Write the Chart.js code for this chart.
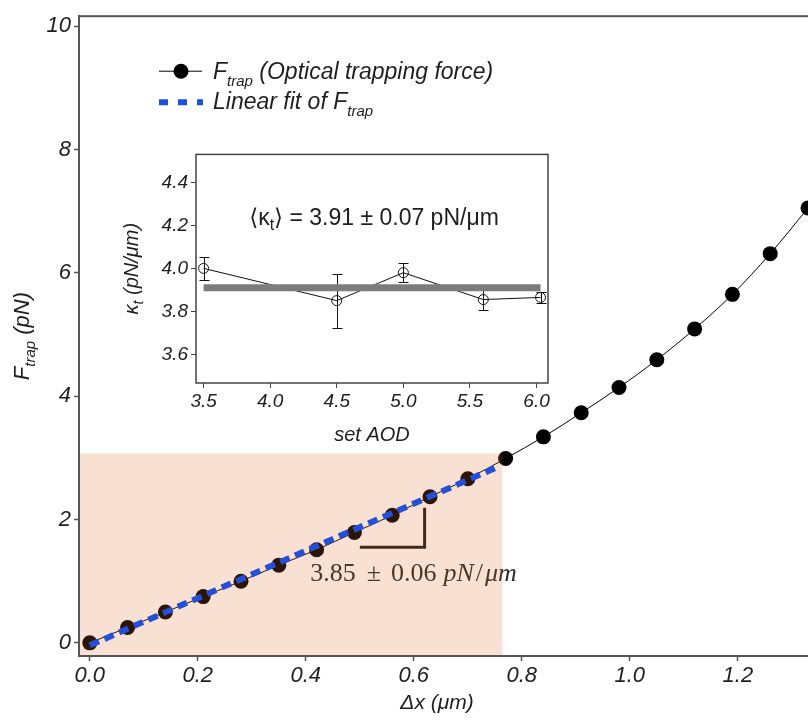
<!DOCTYPE html>
<html lang="en">
<head>
<meta charset="UTF-8">
<title>Optical trapping force</title>
<style>
    html, body { margin: 0; padding: 0; background: #fff; overflow: hidden; }
    #wrap { position: relative; width: 808px; height: 724px; overflow: hidden; }
    #mainChart { position: absolute; left: 0; top: 0; }
    #insetChart { position: absolute; left: 100px; top: 140px; }
</style>
</head>
<body>
<div id="wrap">
    <canvas id="mainChart" width="850" height="724"></canvas>
    <canvas id="insetChart" width="460" height="310"></canvas>
</div>
<script src="https://cdn.jsdelivr.net/npm/chart.js@4.4.1/dist/chart.umd.min.js"></script>
<script>
    // trapping force vs bead displacement
    const dx = [0, 0.07, 0.14, 0.21, 0.28, 0.35, 0.42, 0.49, 0.56, 0.63,
                0.70, 0.77, 0.84, 0.91, 0.98, 1.05, 1.12, 1.19, 1.26, 1.33];
    const fTrap = [0, 0.25, 0.50, 0.75, 1.00, 1.26, 1.51, 1.79, 2.07, 2.37,
                   2.66, 2.99, 3.34, 3.73, 4.14, 4.59, 5.09, 5.65, 6.31, 7.05];

    // linear fit over the low-displacement part
    const fitX = [0, 0.757];
    const fitY = [-0.04, 2.86];

    // slope marker and its label
    const slopeX = [0.50, 0.62, 0.62];
    const slopeY = [1.55, 1.55, 2.19];
    const slopeLabelAt = [0.408, 1.0];

    // shaded fit range
    const shadeX = 0.764;
    const shadeY = 3.07;

    const xTicks = [0, 0.2, 0.4, 0.6, 0.8, 1.0, 1.2];
    const yTicks = [0, 2, 4, 6, 8, 10];

    // inset: stiffness vs AOD setting
    const aod = [3.5, 4.5, 5.0, 5.6, 6.03];
    const kappa = [4.00, 3.85, 3.98, 3.855, 3.865];
    const kappaErr = [0.055, 0.125, 0.043, 0.047, 0.025];
    const kappaMean = 3.91;
    const insetXTicks = [3.5, 4.0, 4.5, 5.0, 5.5, 6.0];
    const insetYTicks = [3.6, 3.8, 4.0, 4.2, 4.4];

    const SANS = "'Liberation Sans', 'DejaVu Sans', sans-serif";
    const SERIF = "'Liberation Serif', 'DejaVu Serif', serif";
    const axisColor = '#555';
    const textColor = '#1e1e1e';

    // draws a row of text pieces; dy shifts subscripts, gap adds space after a piece
    function drawRuns(ctx, runs, x, y, align) {
        let total = 0;
        runs.forEach(r => { ctx.font = r.font; total += ctx.measureText(r.text).width + (r.gap || 0); });
        let cx = align === 'center' ? x - total / 2 : x;
        runs.forEach(r => {
            ctx.font = r.font;
            ctx.fillText(r.text, cx, y + (r.dy || 0));
            cx += ctx.measureText(r.text).width + (r.gap || 0);
        });
    }

    function pts(xs, ys) {
        return xs.map((v, i) => ({x: v, y: ys[i]}));
    }

    const mainDecor = {
        id: 'mainDecor',
        beforeDatasetDraw(chart, args) {
            if (args.index !== 2) return;
            const {ctx, chartArea: a, scales: {x, y}} = chart;
            ctx.save();
            ctx.fillStyle = '#2a2a2a';
            ctx.textAlign = 'left';
            ctx.textBaseline = 'alphabetic';
            const up = '26px ' + SERIF, it = 'italic 26px ' + SERIF;
            drawRuns(ctx, [
                {text: '3.85', font: up, gap: 11},
                {text: '\u00b1', font: up, gap: 10},
                {text: '0.06', font: up, gap: 7},
                {text: 'pN', font: it, gap: 2},
                {text: '/', font: up, gap: 2},
                {text: '\u03bcm', font: it}
            ], x.getPixelForValue(slopeLabelAt[0]), y.getPixelForValue(slopeLabelAt[1]));
            // translucent orange over the fitted range
            const sx = x.getPixelForValue(shadeX);
            const sy = y.getPixelForValue(shadeY);
            ctx.fillStyle = 'rgba(222,104,28,0.2)';
            ctx.fillRect(a.left, sy, sx - a.left, a.bottom - sy);
            ctx.restore();
        },
        afterDraw(chart) {
            const {ctx, chartArea: a} = chart;
            ctx.save();
            ctx.strokeStyle = axisColor;
            ctx.lineWidth = 2;
            ctx.strokeRect(a.left, a.top, a.right - a.left, a.bottom - a.top);

            ctx.fillStyle = textColor;
            ctx.textBaseline = 'alphabetic';
            const big = 'italic 23px ' + SANS;
            const sub = 'italic 15px ' + SANS;

            // y title
            ctx.save();
            ctx.translate(29, (a.top + a.bottom) / 2);
            ctx.rotate(-Math.PI / 2);
            drawRuns(ctx, [
                {text: 'F', font: 'italic 22px ' + SANS},
                {text: 'trap', font: sub, dy: 6},
                {text: ' (pN)', font: 'italic 22px ' + SANS}
            ], 0, 0, 'center');
            ctx.restore();

            // x title
            drawRuns(ctx, [{text: '\u0394x (\u03bcm)', font: 'italic 21px ' + SANS}],
                a.left + 358, 709, 'center');

            // legend
            const lx = a.left + 80, ly1 = a.top + 55, ly2 = a.top + 86;
            ctx.strokeStyle = '#000';
            ctx.lineWidth = 1;
            ctx.beginPath();
            ctx.moveTo(lx, ly1);
            ctx.lineTo(lx + 43, ly1);
            ctx.stroke();
            ctx.fillStyle = '#000';
            ctx.beginPath();
            ctx.arc(lx + 22, ly1, 7.5, 0, Math.PI * 2);
            ctx.fill();

            ctx.strokeStyle = '#1d4fe0';
            ctx.lineWidth = 6;
            ctx.setLineDash([9, 10]);
            ctx.beginPath();
            ctx.moveTo(lx, ly2);
            ctx.lineTo(lx + 44, ly2);
            ctx.stroke();
            ctx.setLineDash([]);

            ctx.fillStyle = textColor;
            drawRuns(ctx, [
                {text: 'F', font: big},
                {text: 'trap', font: sub, dy: 7},
                {text: ' (Optical trapping force)', font: big}
            ], lx + 54, ly1 + 8);
            drawRuns(ctx, [
                {text: 'Linear fit of F', font: big},
                {text: 'trap', font: sub, dy: 7}
            ], lx + 54, ly2 + 7);
            ctx.restore();
        }
    };

    new Chart(document.getElementById('mainChart'), {
        type: 'line',
        data: {
            datasets: [
                {
                    label: 'Ftrap (Optical trapping force)',
                    data: pts(dx, fTrap),
                    borderColor: '#000',
                    borderWidth: 1,
                    pointRadius: 7.5,
                    pointBackgroundColor: '#000',
                    pointBorderWidth: 0,
                    cubicInterpolationMode: 'monotone',
                    order: 3
                },
                {
                    label: 'slope',
                    data: pts(slopeX, slopeY),
                    borderColor: '#1c1c1c',
                    borderWidth: 3,
                    pointRadius: 0,
                    tension: 0,
                    order: 2
                },
                {
                    label: 'Linear fit of Ftrap',
                    data: pts(fitX, fitY),
                    borderColor: '#2450d8',
                    borderWidth: 6,
                    borderDash: [10, 6],
                    pointRadius: 0,
                    tension: 0,
                    order: 1
                }
            ]
        },
        options: {
            responsive: false,
            animation: false,
            layout: {padding: {top: 9, right: 20, left: 0, bottom: 0}},
            plugins: {legend: {display: false}, tooltip: {enabled: false}},
            scales: {
                x: {
                    type: 'linear',
                    min: -0.02,
                    max: 1.3707,
                    afterBuildTicks: s => { s.ticks = xTicks.map(v => ({value: v})); },
                    afterFit: s => { s.height = 68; },
                    border: {color: axisColor, width: 2},
                    grid: {drawOnChartArea: false, tickLength: 5, tickColor: axisColor, tickWidth: 1.5},
                    ticks: {
                        padding: 2,
                        color: textColor,
                        font: {family: SANS, size: 22, style: 'italic'},
                        callback: v => v.toFixed(1)
                    }
                },
                y: {
                    type: 'linear',
                    min: -0.213,
                    max: 10.16,
                    afterBuildTicks: s => { s.ticks = yTicks.map(v => ({value: v})); },
                    afterFit: s => { s.width = 79; },
                    border: {color: axisColor, width: 2},
                    grid: {drawOnChartArea: false, tickLength: 5, tickColor: axisColor, tickWidth: 1.5},
                    ticks: {
                        padding: 3,
                        color: textColor,
                        font: {family: SANS, size: 22, style: 'italic'},
                        callback: v => String(v)
                    }
                }
            }
        },
        plugins: [mainDecor]
    });

    const insetDecor = {
        id: 'insetDecor',
        beforeDatasetsDraw(chart) {
            const {ctx, chartArea: a} = chart;
            ctx.save();
            ctx.fillStyle = '#fff';
            ctx.fillRect(a.left, a.top, a.right - a.left, a.bottom - a.top);
            ctx.restore();
        },
        afterDatasetDraw(chart, args) {
            if (args.index !== 0) return;
            const {ctx, scales: {x, y}} = chart;
            ctx.save();
            ctx.strokeStyle = '#111';
            ctx.lineWidth = 1;
            aod.forEach((v, i) => {
                const px = Math.round(x.getPixelForValue(v)) + 0.5;
                const top = Math.round(y.getPixelForValue(kappa[i] + kappaErr[i])) + 0.5;
                const bot = Math.round(y.getPixelForValue(kappa[i] - kappaErr[i])) + 0.5;
                ctx.beginPath();
                ctx.moveTo(px, top); ctx.lineTo(px, bot);
                ctx.moveTo(px - 5, top); ctx.lineTo(px + 5, top);
                ctx.moveTo(px - 5, bot); ctx.lineTo(px + 5, bot);
                ctx.stroke();
            });
            ctx.restore();
        },
        afterDraw(chart) {
            const {ctx, chartArea: a} = chart;
            ctx.save();
            ctx.strokeStyle = '#444';
            ctx.lineWidth = 1.5;
            ctx.strokeRect(a.left, a.top, a.right - a.left, a.bottom - a.top);
            ctx.fillStyle = textColor;
            ctx.textBaseline = 'alphabetic';

            const f = 'italic 20px ' + SANS;
            ctx.save();
            ctx.translate(38, (a.top + a.bottom) / 2);
            ctx.rotate(-Math.PI / 2);
            drawRuns(ctx, [
                {text: '\u03ba', font: f},
                {text: 't', font: 'italic 14px ' + SANS, dy: 5},
                {text: ' (pN/\u03bcm)', font: f}
            ], 0, 0, 'center');
            ctx.restore();

            drawRuns(ctx, [{text: 'set AOD', font: f}], (a.left + a.right) / 2, 301, 'center');

            const n = '23px ' + SANS;
            drawRuns(ctx, [
                {text: '\u27e8\u03ba', font: n},
                {text: 't', font: '16px ' + SANS, dy: 5},
                {text: '\u27e9 = 3.91 \u00b1 0.07 pN/\u03bcm', font: n}
            ], (a.left + a.right) / 2 + 2, a.top + 71, 'center');
            ctx.restore();
        }
    };

    new Chart(document.getElementById('insetChart'), {
        type: 'line',
        data: {
            datasets: [
                {
                    label: 'kappa_t',
                    data: pts(aod, kappa),
                    borderColor: '#111',
                    borderWidth: 1,
                    pointRadius: 5,
                    pointBorderWidth: 1,
                    pointBorderColor: '#111',
                    pointBackgroundColor: 'rgba(0,0,0,0)',
                    tension: 0,
                    order: 2
                },
                {
                    label: 'mean',
                    data: pts([aod[0], aod[aod.length - 1]], [kappaMean, kappaMean]),
                    borderColor: '#7c7c7c',
                    borderWidth: 7,
                    borderCapStyle: 'butt',
                    pointRadius: 0,
                    tension: 0,
                    order: 1
                }
            ]
        },
        options: {
            responsive: false,
            animation: false,
            layout: {padding: {top: 12, right: 12, left: 0, bottom: 0}},
            plugins: {legend: {display: false}, tooltip: {enabled: false}},
            scales: {
                x: {
                    type: 'linear',
                    min: 3.443,
                    max: 6.086,
                    afterBuildTicks: s => { s.ticks = insetXTicks.map(v => ({value: v})); },
                    afterFit: s => { s.height = 67; },
                    border: {display: false},
                    grid: {drawOnChartArea: false, tickLength: 5, tickColor: '#444'},
                    ticks: {
                        padding: 2,
                        color: textColor,
                        font: {family: SANS, size: 19, style: 'italic'},
                        callback: v => v.toFixed(1)
                    }
                },
                y: {
                    type: 'linear',
                    min: 3.467,
                    max: 4.53,
                    afterBuildTicks: s => { s.ticks = insetYTicks.map(v => ({value: v})); },
                    afterFit: s => { s.width = 96; },
                    border: {display: false},
                    grid: {drawOnChartArea: false, tickLength: 5, tickColor: '#444'},
                    ticks: {
                        padding: 3,
                        color: textColor,
                        font: {family: SANS, size: 19, style: 'italic'},
                        callback: v => v.toFixed(1)
                    }
                }
            }
        },
        plugins: [insetDecor]
    });
</script>
</body>
</html>
